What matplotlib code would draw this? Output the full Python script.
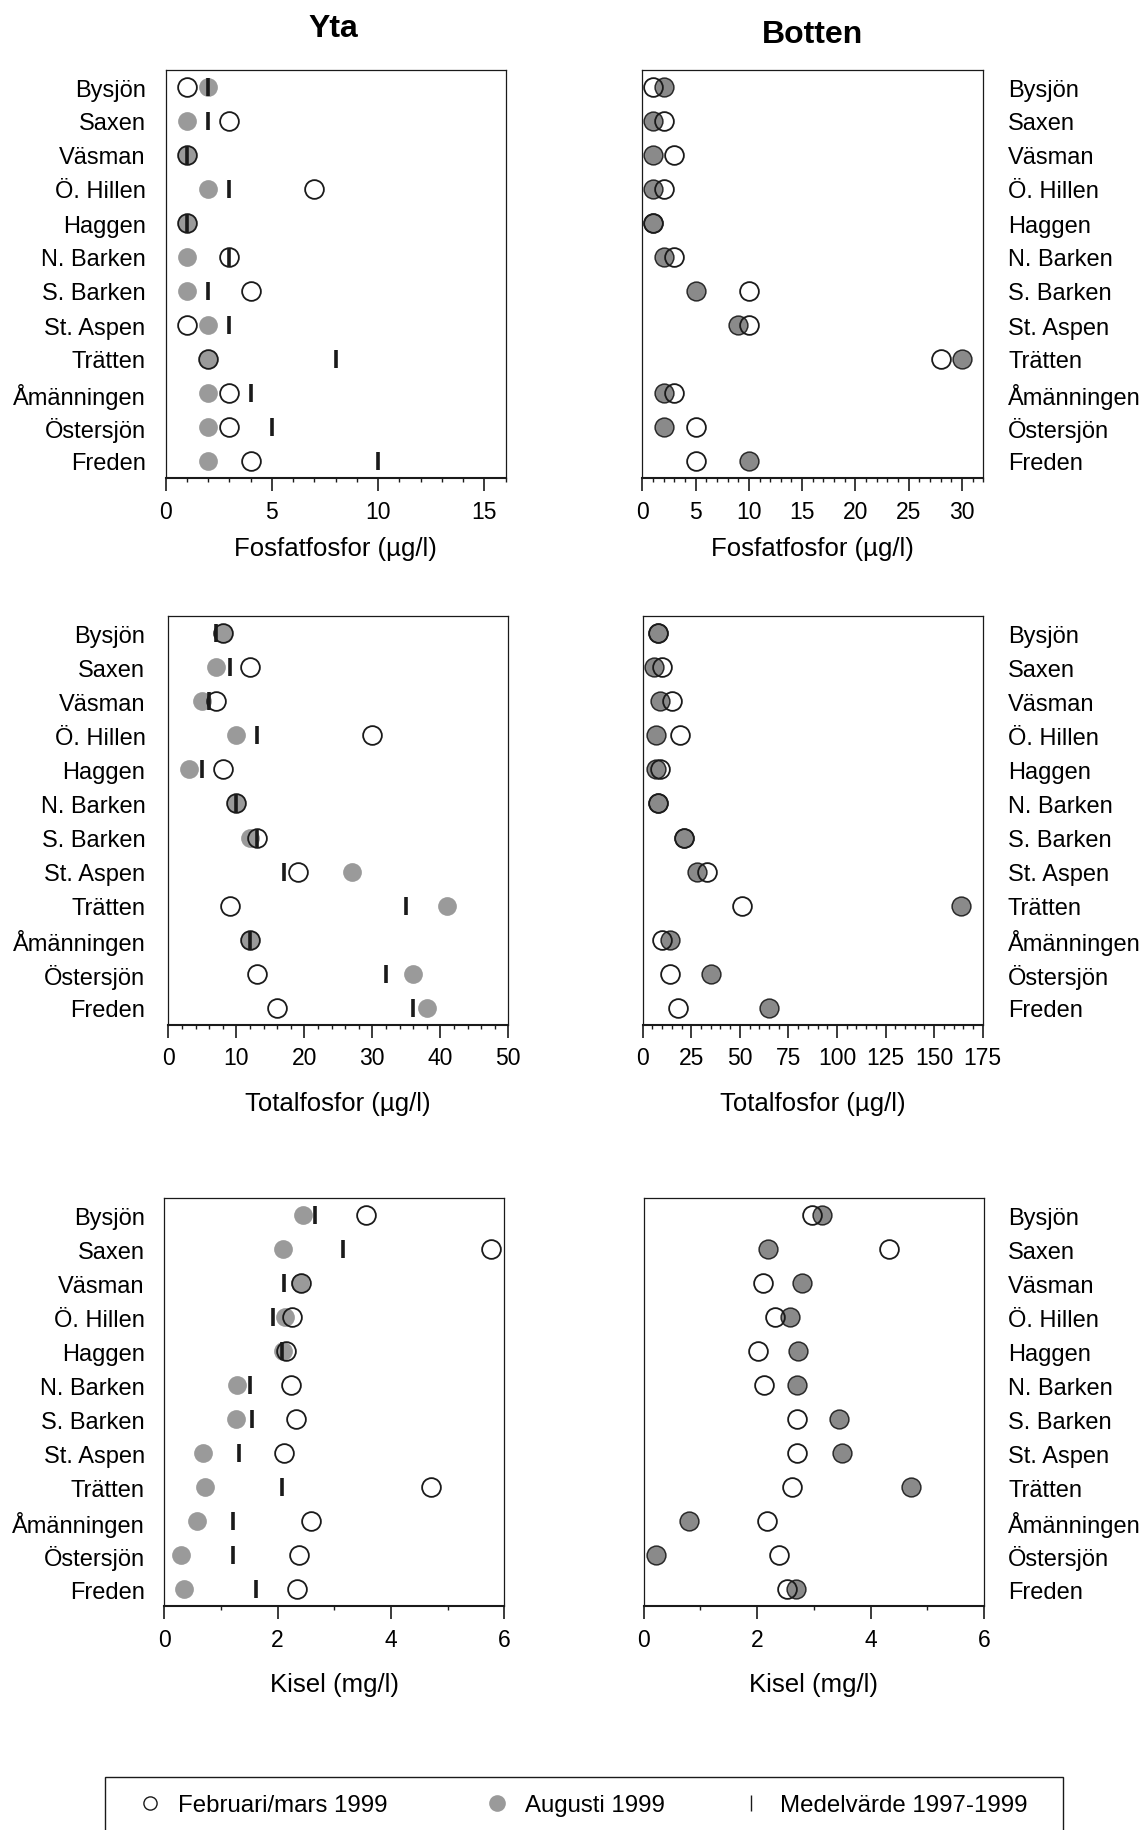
import matplotlib
matplotlib.use("Agg")
import matplotlib.pyplot as plt
from matplotlib.lines import Line2D
from matplotlib.patches import Rectangle
from matplotlib.ticker import MultipleLocator

plt.rcParams['font.family'] = ['Liberation Sans', 'DejaVu Sans']

lakes = ["Bysjön", "Saxen", "Väsman", "Ö. Hillen", "Haggen", "N. Barken",
         "S. Barken", "St. Aspen", "Trätten", "Åmänningen", "Östersjön", "Freden"]

# Fosfatfosfor (µg/l)
po4_yta_feb = [1, 3, 1, 7, 1, 3, 4, 1, 2, 3, 3, 4]
po4_yta_aug = [2, 1, 1, 2, 1, 1, 1, 2, 2, 2, 2, 2]
po4_yta_mean = [2, 2, 1, 3, 1, 3, 2, 3, 8, 4, 5, 10]
po4_bot_feb = [1, 2, 3, 2, 1, 3, 10, 10, 28, 3, 5, 5]
po4_bot_aug = [2, 1, 1, 1, 1, 2, 5, 9, 30, 2, 2, 10]

# Totalfosfor (µg/l)
tp_yta_feb = [8, 12, 7, 30, 8, 10, 13, 19, 9, 12, 13, 16]
tp_yta_aug = [8, 7, 5, 10, 3, 10, 12, 27, 41, 12, 36, 38]
tp_yta_mean = [7, 9, 6, 13, 5, 10, 13, 17, 35, 12, 32, 36]
tp_bot_feb = [8, 10, 15, 19, 9, 8, 21, 33, 51, 10, 14, 18]
tp_bot_aug = [8, 6, 9, 7, 7, 8, 21, 28, 164, 14, 35, 65]

# Kisel (mg/l)
si_yta_feb = [3.56, 5.76, 2.42, 2.25, 2.14, 2.24, 2.32, 2.11, 4.71, 2.59, 2.38, 2.35]
si_yta_aug = [2.44, 2.09, 2.39, 2.13, 2.10, 1.29, 1.26, 0.68, 0.72, 0.58, 0.30, 0.35]
si_yta_mean = [2.66, 3.16, 2.12, 1.91, 2.07, 1.52, 1.55, 1.32, 2.08, 1.22, 1.21, 1.62]
si_bot_feb = [2.96, 4.32, 2.11, 2.32, 2.02, 2.12, 2.70, 2.70, 2.62, 2.17, 2.39, 2.53]
si_bot_aug = [3.15, 2.20, 2.79, 2.58, 2.72, 2.71, 3.45, 3.50, 4.72, 0.79, 0.22, 2.68]

legend_labels = ["Februari/mars 1999", "Augusti 1999", "Medelvärde 1997-1999"]

W, H = 1146, 1831
fig = plt.figure(figsize=(W / 100, H / 100), dpi=100)

INK = "#1a1a1a"
GRAY_YTA = "#9a9a9a"
GRAY_BOT = "#8a8a8a"
MS = 13.5
CAT_FS = 17
TICK_FS = 16.5
LABEL_FS = 18.5


def px_axes(x0, y0, x1, y1):
    return fig.add_axes([x0 / W, 1 - y1 / H, (x1 - x0) / W, (y1 - y0) / H])


def setup(ax, xmax, major, minor, side, ypad, xlabel, labelpad):
    ypos = list(range(len(lakes)))
    ax.set_xlim(0, xmax)
    ax.set_ylim(len(lakes) - 0.5, -0.5)
    ax.set_yticks(ypos)
    ax.set_yticklabels(lakes, fontsize=CAT_FS)
    if side == "right":
        ax.yaxis.tick_right()
    ax.tick_params(axis="y", length=0, pad=ypad)
    ax.xaxis.set_major_locator(MultipleLocator(major))
    ax.xaxis.set_minor_locator(MultipleLocator(minor))
    ax.tick_params(axis="x", which="major", length=9, width=1.2, pad=6.5,
                   labelsize=TICK_FS, color=INK)
    ax.tick_params(axis="x", which="minor", length=3, width=1.0, color=INK)
    for s in ax.spines.values():
        s.set_linewidth(0.9)
        s.set_color(INK)
    ax.spines["bottom"].set_linewidth(1.5)
    ax.set_xlabel(xlabel, fontsize=LABEL_FS, labelpad=labelpad)


def draw(ax, feb, aug, mean, surface):
    ypos = list(range(len(lakes)))
    if surface:
        ax.plot(aug, ypos, "o", ls="none", ms=MS, mfc=GRAY_YTA, mec="none",
                zorder=3, clip_on=False)
    else:
        ax.plot(aug, ypos, "o", ls="none", ms=MS, mfc=GRAY_BOT, mec="#2a2a2a",
                mew=1.1, zorder=3, clip_on=False)
    ax.plot(feb, ypos, "o", ls="none", ms=MS, mfc="none", mec=INK, mew=1.3,
            zorder=4, clip_on=False)
    if mean is not None:
        ax.plot(mean, ypos, "|", ls="none", ms=12.5, mew=2.6, mec=INK,
                zorder=5, clip_on=False)


# Row 1: Fosfatfosfor
ax = px_axes(165.7, 71, 505.7, 479)
setup(ax, 16, 5, 1, "left", 14.5, "Fosfatfosfor (µg/l)", 10)
draw(ax, po4_yta_feb, po4_yta_aug, po4_yta_mean, True)

ax = px_axes(642.3, 71, 983.3, 479)
setup(ax, 32, 5, 1, "right", 18, "Fosfatfosfor (µg/l)", 10)
draw(ax, po4_bot_feb, po4_bot_aug, None, False)

# Row 2: Totalfosfor
ax = px_axes(168.3, 617.3, 508.3, 1025.7)
setup(ax, 50, 10, 2, "left", 16.5, "Totalfosfor (µg/l)", 16)
draw(ax, tp_yta_feb, tp_yta_aug, tp_yta_mean, True)

ax = px_axes(642.7, 617.3, 982.7, 1025.7)
setup(ax, 175, 25, 5, "right", 18, "Totalfosfor (µg/l)", 16)
draw(ax, tp_bot_feb, tp_bot_aug, None, False)

# Row 3: Kisel
ax = px_axes(164.3, 1199.3, 504.3, 1607.3)
setup(ax, 6, 2, 1, "left", 14, "Kisel (mg/l)", 15.5)
draw(ax, si_yta_feb, si_yta_aug, si_yta_mean, True)

ax = px_axes(643.7, 1199.3, 984, 1607.3)
setup(ax, 6, 2, 1, "right", 17.5, "Kisel (mg/l)", 15.5)
draw(ax, si_bot_feb, si_bot_aug, None, False)

# Column headings
fig.text(333 / W, 1 - 37 / H, "Yta", ha="center", va="baseline",
         fontsize=23, fontweight="bold")
fig.text(812 / W, 1 - 43 / H, "Botten", ha="center", va="baseline",
         fontsize=23, fontweight="bold")

# Legend: frame running off the bottom edge, three keys spread across it
fig.add_artist(Rectangle((105 / W, -0.01), (1063 - 105) / W, 0.01 + (H - 1778) / H,
                         transform=fig.transFigure, fill=False, ec=INK, lw=1.0))
handles = [
    Line2D([], [], ls="none", marker="o", ms=9.5, mfc="none", mec=INK, mew=1.0),
    Line2D([], [], ls="none", marker="o", ms=12, mfc=GRAY_YTA, mec="none"),
    Line2D([], [], ls="none", marker="|", ms=12, mew=1.0, mec=INK),
]
key_left_px = [137.5, 484.5, 739]
for h, lab, xl in zip(handles, legend_labels, key_left_px):
    fig.legend([h], [lab], loc="center left", bbox_to_anchor=(xl / W, 1 - 1806 / H),
               frameon=False, fontsize=17.3, handlelength=1.0, handletextpad=0.7,
               borderpad=0, borderaxespad=0)

fig.savefig("out.png", dpi=100)
